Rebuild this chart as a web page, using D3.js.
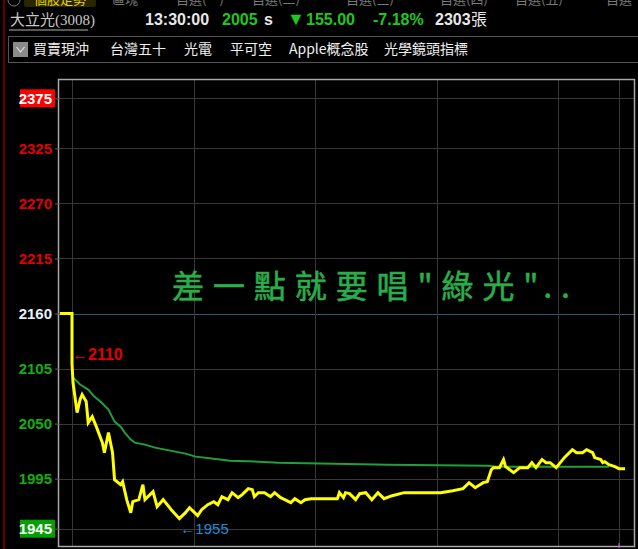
<!DOCTYPE html>
<html><head><meta charset="utf-8">
<script src="https://cdn.jsdelivr.net/npm/d3@7"></script>
<style>
html,body{margin:0;padding:0;background:#000;}
svg{display:block;}
</style></head>
<body>
<svg id="c" width="638" height="549"></svg>
<script>
// ---------- data ----------
const prevClose = 2160;
const yTicks = [2375, 2325, 2270, 2215, 2160, 2105, 2050, 1995, 1945];
const timeTicks = [0, 60, 120, 180, 240, 270]; // minutes after 09:00
// price (yellow) : minutes after 09:00, price
const priceTime = [-6,0,0,0.5,2.5,4,5,7,8,10,12,15,16,18,20,21,24,25,27,29,30,33,35,36,40,42,45,49,53,56,58,60,62,64,67,70,72,74,77,79,82,84,87,89,90,92,95,98,100,103,105,108,110,113,115,118,131,132,134,135,137,140,142,145,148,151,154,158,164,182,188,193,196,199,203,205,207,208,211,213,214,218,221,225,227,229,232,234,236,239,243,247,249,252,254,257,258,261,262,263,265,268,270,273];
const priceVal  = [2160,2160,2110,2091,2061,2074,2079,2072,2051,2057,2047,2031,2021,2041,2021,1994,1989,1992,1974,1961,1972,1974,1989,1974,1982,1967,1974,1964,1955,1961,1966,1962,1958,1964,1969,1972,1969,1977,1974,1981,1976,1979,1985,1984,1977,1981,1981,1977,1981,1976,1974,1971,1975,1971,1974,1975,1975,1981,1976,1981,1980,1974,1980,1981,1974,1981,1975,1978,1981,1981,1983,1985,1991,1986,1991,1992,2004,2006,2006,2014,2007,2001,2006,2006,2011,2006,2014,2011,2011,2006,2016,2024,2021,2021,2024,2021,2016,2014,2011,2012,2009,2007,2005,2005];
// average price (green)
const avgTime = [0.5,4,8,11,14,18,21,24,26,29,31,36,41,46,51,56,61,70,78,92,102,129,156,205,210,265];
const avgVal  = [2096,2089,2084,2077,2072,2064,2052,2047,2041,2034,2031,2029,2026,2024,2022,2020,2017,2015,2013,2012,2011,2010,2009,2008,2007,2007];
const highMark = {t: 0, v: 2110, label: "←2110"};
const lowMark  = {t: 53, v: 1955, label: "←1955"};
const tabs = ["個股走勢","區塊","自選(一)","自選(二)","自選(三)","自選(四)","自選(五)","自選"];
const tabX = [34,112,176,252,346,440,515,606];
const toolItems = ["買賣現沖","台灣五十","光電","平可空","Apple概念股","光學鏡頭指標"];
const toolX = [33,110,184,230,289,384];

// ---------- drawing ----------
const svg = d3.select("#c");
const L = 59, R = 634, T = 79, B = 546;
const x = d3.scaleLinear().domain([0, 270]).range([72, 619]);
const y = d3.scaleLinear().domain([1945, 2375]).range([528.7, 98.3]);
const sans = "'Liberation Sans', Arial, sans-serif";
const cjk = "'Noto Sans CJK TC', 'Noto Sans CJK SC', sans-serif";

// left red line
svg.append("line").attr("x1",4).attr("x2",4).attr("y1",0).attr("y2",549).attr("stroke","#c00000").attr("stroke-width",1);

// tabs row (cut off at top)
svg.append("rect").attr("x",24).attr("y",-4).attr("width",72).attr("height",11).attr("fill","#2a2600").attr("rx",2);
svg.append("circle").attr("cx",14).attr("cy",0).attr("r",6).attr("fill","none").attr("stroke","#777");
svg.selectAll("text.tab").data(tabs).join("text").attr("class","tab")
  .attr("x",(d,i)=>tabX[i]).attr("y",4)
  .attr("font-family",cjk).attr("font-size",13)
  .attr("fill",(d,i)=>i===0?"#e8d800":"#7a7a7a").text(d=>d);

// header line
const hdr = svg.append("g").attr("font-size",16);
hdr.append("text").attr("x",10).attr("y",25).attr("font-family","'Liberation Serif', "+cjk)
  .attr("font-size",15).attr("fill","#c8c8c8").text("大立光(3008)");
hdr.append("line").attr("x1",9).attr("x2",88).attr("y1",30).attr("y2",30).attr("stroke","#b0b0b0");
const hb = hdr.append("g").attr("font-family",sans).attr("font-weight","bold");
hb.append("text").attr("x",145).attr("y",25).attr("fill","#e8e8e8").text("13:30:00");
hb.append("text").attr("x",222).attr("y",25).attr("fill","#1ec81e").text("2005");
hb.append("text").attr("x",264).attr("y",25).attr("fill","#e8e8e8").text("s");
hb.append("text").attr("x",287).attr("y",25).attr("font-size",18).attr("fill","#1ec81e").text("▼");
hb.append("text").attr("x",306).attr("y",25).attr("fill","#1ec81e").text("155.00");
hb.append("text").attr("x",373).attr("y",25).attr("fill","#1ec81e").text("-7.18%");
hb.append("text").attr("x",435).attr("y",25).attr("fill","#e8e8e8").text("2303");
hdr.append("text").attr("x",471).attr("y",25).attr("font-family",cjk).attr("fill","#e8e8e8").text("張");

// toolbar
svg.append("rect").attr("x",8.5).attr("y",36.5).attr("width",640).attr("height",26)
  .attr("fill","#000").attr("stroke","#555");
svg.append("rect").attr("x",13).attr("y",42).attr("width",15).attr("height",15).attr("fill","#8a8a8a");
svg.append("path").attr("d","M16.5,47 L20.5,52 L24.5,47").attr("fill","none").attr("stroke","#e0e0e0").attr("stroke-width",1.2);
svg.selectAll("text.tool").data(toolItems).join("text").attr("class","tool")
  .attr("x",(d,i)=>toolX[i]).attr("y",54)
  .attr("font-family",cjk).attr("font-size",14).attr("fill","#f0f0f0").text(d=>d);

// grid lines
const grid = svg.append("g");
grid.selectAll("line.h").data(yTicks).join("line").attr("class","h")
  .attr("x1",L).attr("x2",R).attr("y1",d=>Math.round(y(d))+0.5).attr("y2",d=>Math.round(y(d))+0.5)
  .attr("stroke",d=>d===prevClose?"#2b5a72":"#383838").attr("stroke-width",1);
grid.selectAll("line.v").data(timeTicks).join("line").attr("class","v")
  .attr("x1",d=>Math.round(x(d))+0.5).attr("x2",d=>Math.round(x(d))+0.5).attr("y1",T).attr("y2",B)
  .attr("stroke","#383838").attr("stroke-width",1);

// plot border
svg.append("rect").attr("x",L-0.5).attr("y",T+0.5).attr("width",R-L+1).attr("height",B-T)
  .attr("fill","none").attr("stroke","#a8a8a8").attr("stroke-width",1.5);
svg.append("line").attr("x1",x(270)).attr("x2",x(270)).attr("y1",B-3).attr("y2",B+2).attr("stroke","#ff44ff");

// y axis
const colorFor = v => v===2375||v===1945 ? "#ffffff" : v>prevClose ? "#e00000" : v===prevClose ? "#e6f2ff" : "#10b010";
svg.append("rect").attr("x",20).attr("y",y(2375)-9).attr("width",35).attr("height",18).attr("fill","#ff0000");
svg.append("rect").attr("x",20).attr("y",y(1945)-9).attr("width",35).attr("height",18).attr("fill","#00a000");
const ax = svg.append("g").attr("transform",`translate(${L},0)`)
  .call(d3.axisLeft(y).tickValues(yTicks).tickSize(4).tickPadding(3).tickFormat(d3.format("d")));
ax.select(".domain").remove();
ax.selectAll(".tick line").attr("stroke","#606060");
ax.selectAll(".tick text").attr("font-family",sans).attr("font-size",15).attr("font-weight","bold")
  .attr("fill",d=>colorFor(d));

// average line
const line = d3.line().x(d=>x(d[0])).y(d=>y(d[1]));
svg.append("path").datum(avgTime.map((t,i)=>[t,avgVal[i]])).attr("d",line)
  .attr("fill","none").attr("stroke","#1fa03a").attr("stroke-width",2);
// price line
svg.append("path").datum(priceTime.map((t,i)=>[t,priceVal[i]])).attr("d",line)
  .attr("fill","none").attr("stroke","#ffff00").attr("stroke-width",3).attr("stroke-linejoin","miter");

// high / low markers
svg.append("text").attr("x",x(highMark.t)).attr("y",y(highMark.v)-4)
  .attr("font-family",sans).attr("font-size",16).attr("font-weight","bold").attr("fill","#e00000").text(highMark.label);
svg.append("text").attr("x",x(lowMark.t)+1).attr("y",y(lowMark.v)+15)
  .attr("font-family",sans).attr("font-size",15).attr("fill","#1a90d8").text(lowMark.label);

// annotation
svg.append("text").attr("x",172).attr("y",298).attr("font-family",cjk).attr("font-size",32)
  .attr("fill","#2aad4a").attr("stroke","#2aad4a").attr("stroke-width",0.6)
  .attr("textLength",398).attr("lengthAdjust","spacing")
  .text('差一點就要唱"綠光"..');
</script>
</body></html>
